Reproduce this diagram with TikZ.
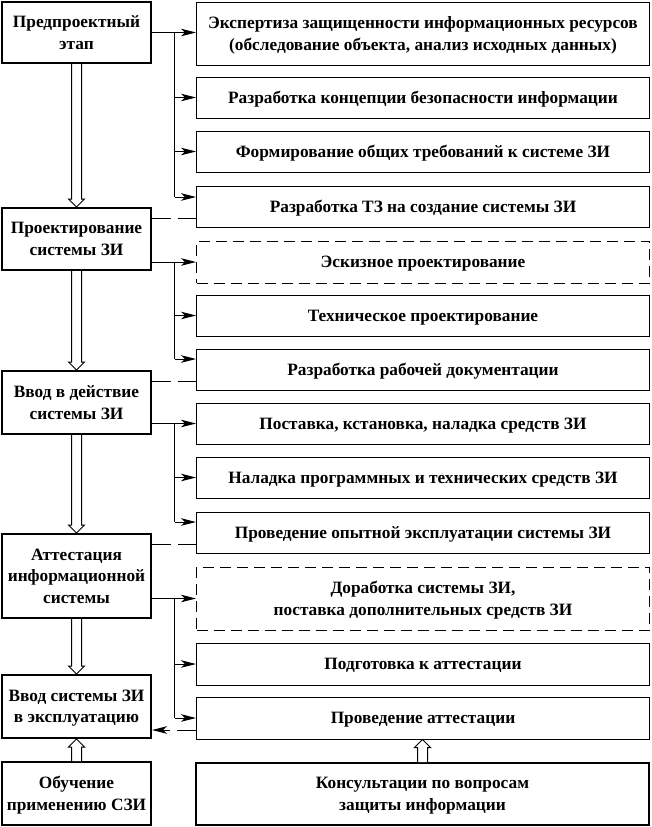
\documentclass[tikz,border=0pt]{standalone}
\usepackage{fontspec}
\setmainfont{Liberation Serif}
\usetikzlibrary{arrows.meta,calc}
\newcommand\boxfont{\fontsize{17.3}{21.5}\selectfont\bfseries}
\newcommand\harrow[3]{\draw[hol] let \p1=(#1), \p2=(#2) in
  ({\x1-5pt},\y1) -- ({\x1-5pt},{\y2+(#3)}) -- ({\x1-8pt},{\y2+(#3)}) -- (\x1,\y2)
  -- ({\x1+8pt},{\y2+(#3)}) -- ({\x1+5pt},{\y2+(#3)}) -- ({\x1+5pt},\y1);}
\begin{document}
\begin{tikzpicture}[x=1pt,y=-1pt,
  lbox/.style={draw, line width=2pt, minimum width=149pt, inner sep=0pt, align=center, font=\boxfont, text depth=-2pt},
  rbox/.style={draw, line width=1pt, minimum width=453pt, inner sep=0pt, align=center, font=\boxfont, text depth=-2pt},
  dbox/.style={rbox, dash pattern=on 11pt off 6pt},
  conn/.style={line width=1pt, -{Stealth[length=15pt,width=7.5pt,inset=4pt]}},
  busline/.style={line width=1pt},
  dline/.style={line width=1pt, dash pattern=on 19pt off 7pt},
  hol/.style={line width=1pt, fill=white}]
\useasboundingbox (0,0) rectangle (651,827);

% left column
\node[lbox, minimum height=61pt] (L1) at (76.5,32.5) {Предпроектный\\этап};
\node[lbox, minimum height=62pt] (L2) at (76.5,239) {Проектирование\\системы ЗИ};
\node[lbox, minimum height=63pt] (L3) at (76.5,402.5) {Ввод в действие\\системы ЗИ};
\node[lbox, minimum height=84pt] (L4) at (76.5,576) {Аттестация\\информационной\\системы};
\node[lbox, minimum height=63pt] (L5) at (76.5,706.5) {Ввод системы ЗИ\\в эксплуатацию};
\node[lbox, minimum height=63pt] (L6) at (76.5,793.5) {Обучение\\применению СЗИ};

% right column
\node[rbox, minimum height=63pt] (R1) at (423,33.5) {Экспертиза защищенности информационных ресурсов\\(обследование объекта, анализ исходных данных)};
\node[rbox, minimum height=41pt] (R2) at (423,97.5) {Разработка концепции безопасности информации};
\node[rbox, minimum height=41pt] (R3) at (423,151.5) {Формирование общих требований к системе ЗИ};
\node[rbox, minimum height=41pt] (R4) at (423,206.5) {Разработка ТЗ на создание системы ЗИ};
\node[dbox, minimum height=42pt] (R5) at (423,262) {Эскизное проектирование};
\node[rbox, minimum height=41pt] (R6) at (423,315.5) {Техническое проектирование};
\node[rbox, minimum height=41pt] (R7) at (423,369.5) {Разработка рабочей документации};
\node[rbox, minimum height=41pt] (R8) at (423,423.5) {Поставка, кстановка, наладка средств ЗИ};
\node[rbox, minimum height=41pt] (R9) at (423,477.5) {Наладка программных и технических средств ЗИ};
\node[rbox, minimum height=41pt] (R10) at (423,532.5) {Проведение опытной эксплуатации системы ЗИ};
\node[dbox, minimum height=63pt] (R11) at (423,598.5) {Доработка системы ЗИ,\\поставка дополнительных средств ЗИ};
\node[rbox, minimum height=42pt] (R12) at (423,664) {Подготовка к аттестации};
\node[rbox, minimum height=42pt] (R13) at (423,718) {Проведение аттестации};
\node[lbox, minimum width=453pt, minimum height=62pt] (R14) at (422.5,794) {Консультации по вопросам\\защиты информации};

\coordinate (busx) at (174.5,0);
\coordinate (a4) at ([yshift=9.5pt]R4.west);
\coordinate (e4) at ([yshift=-11.5pt]R4.west);
\coordinate (a7) at ([yshift=10.5pt]R7.west);
\coordinate (e7) at ([yshift=-11.5pt]R7.west);
\coordinate (a10) at ([yshift=10.5pt]R10.west);
\coordinate (e10) at ([yshift=-11.5pt]R10.west);
\coordinate (e13) at ([yshift=-12pt]R13.west);

% group 1
\draw[conn] (L1.east) -- (L1.east -| R1.west);
\draw[busline] (busx |- L1.east) -- (busx |- a4);
\draw[conn] (busx |- R2.west) -- (R2.west);
\draw[conn] (busx |- R3.west) -- (R3.west);
\draw[conn] (busx |- a4) -- (a4);
\draw[dline] (L2.east |- e4) -- (e4);
% group 2
\draw[conn] (L2.east |- R5.west) -- (R5.west);
\draw[busline] (busx |- R5.west) -- (busx |- a7);
\draw[conn] (busx |- R6.west) -- (R6.west);
\draw[conn] (busx |- a7) -- (a7);
\draw[dline] (L3.east |- e7) -- (e7);
% group 3
\draw[conn] (L3.east |- R8.west) -- (R8.west);
\draw[busline] (busx |- R8.west) -- (busx |- a10);
\draw[conn] (busx |- R9.west) -- (R9.west);
\draw[conn] (busx |- a10) -- (a10);
\draw[dline] (L4.east |- e10) -- (e10);
% group 4
\draw[conn] (L4.east |- R11.west) -- (R11.west);
\draw[busline] (busx |- R11.west) -- (busx |- R13.west);
\draw[conn] (busx |- R12.west) -- (R12.west);
\draw[conn] (busx |- R13.west) -- (R13.west);
\draw[dline, -{Stealth[length=15pt,width=7.5pt,inset=4pt]}] (e13) -- (L5.east |- e13);

% hollow arrows
\harrow{L1.south}{L2.north}{8pt}
\harrow{L2.south}{L3.north}{8pt}
\harrow{L3.south}{L4.north}{8pt}
\harrow{L4.south}{L5.north}{8pt}
\harrow{L6.north}{L5.south}{-8pt}
\harrow{R14.north}{R13.south}{-8pt}
\end{tikzpicture}
\end{document}
